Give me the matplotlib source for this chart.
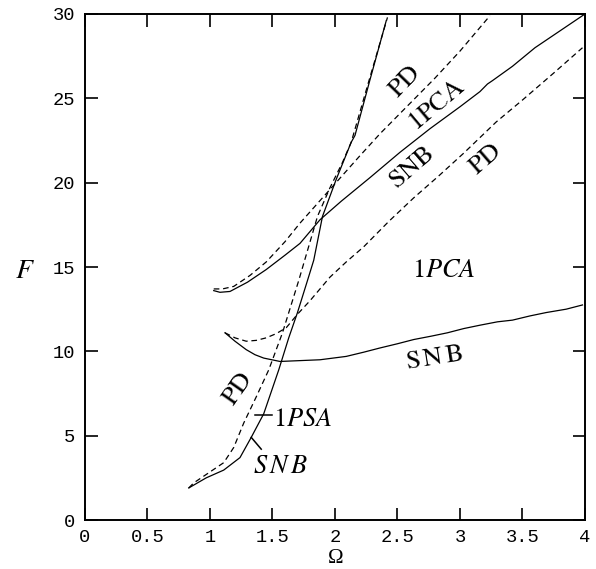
import matplotlib
matplotlib.use("Agg")
import matplotlib.pyplot as plt

plt.rcParams['mathtext.fontset'] = 'stix'

# --- data (Omega, F) ---
psa_snb_x = [0.83, 0.97, 1.11, 1.24, 1.33, 1.43, 1.49, 1.55, 1.63, 1.70, 1.78, 1.83, 1.90, 2.01, 2.13, 2.16, 2.28, 2.41]
psa_snb_y = [1.9, 2.5, 2.96, 3.7, 4.9, 6.3, 7.6, 8.9, 10.8, 12.3, 14.2, 15.4, 18.0, 20.2, 22.4, 22.8, 26.1, 29.6]

psa_pd_x = [0.83, 0.87, 1.00, 1.11, 1.19, 1.27, 1.37, 1.47, 1.58, 1.71, 1.86, 1.96, 2.06, 2.13, 2.27, 2.42]
psa_pd_y = [1.9, 2.2, 2.85, 3.4, 4.3, 5.75, 7.3, 8.9, 11.1, 14.2, 18.0, 19.7, 21.2, 22.4, 26.0, 29.8]

up_snb_x = [1.03, 1.08, 1.16, 1.30, 1.45, 1.60, 1.72, 1.88, 2.05, 2.28, 2.52, 2.76, 3.00, 3.16, 3.22, 3.26, 3.42, 3.60, 3.80, 4.00]
up_snb_y = [13.6, 13.5, 13.55, 14.1, 14.85, 15.7, 16.4, 17.8, 18.9, 20.3, 21.8, 23.2, 24.5, 25.4, 25.85, 26.05, 26.9, 28.0, 29.0, 30.0]

up_pd_x = [1.03, 1.10, 1.19, 1.32, 1.45, 1.60, 1.72, 1.96, 2.20, 2.36, 2.52, 2.80, 3.00, 3.24]
up_pd_y = [13.7, 13.7, 13.85, 14.5, 15.3, 16.5, 17.6, 19.6, 21.6, 22.9, 24.1, 26.2, 27.8, 29.9]

lo_snb_x = [1.12, 1.20, 1.29, 1.36, 1.43, 1.56, 1.72, 1.88, 2.09, 2.23, 2.36, 2.50, 2.63, 2.77, 2.90, 3.03, 3.16, 3.30, 3.42, 3.56, 3.69, 3.85, 3.98]
lo_snb_y = [11.1, 10.6, 10.1, 9.8, 9.6, 9.4, 9.45, 9.5, 9.7, 9.95, 10.2, 10.45, 10.7, 10.9, 11.1, 11.35, 11.55, 11.75, 11.85, 12.1, 12.3, 12.5, 12.75]

lo_pd_x = [1.12, 1.20, 1.29, 1.37, 1.45, 1.53, 1.61, 1.70, 1.80, 1.88, 1.96, 2.09, 2.23, 2.43, 2.63, 2.83, 3.03, 3.29, 3.50, 3.75, 3.98]
lo_pd_y = [11.1, 10.8, 10.6, 10.65, 10.8, 11.05, 11.4, 12.2, 13.0, 13.7, 14.4, 15.3, 16.2, 17.7, 19.1, 20.4, 21.75, 23.6, 24.9, 26.5, 28.0]

psa_mark_x = [1.36, 1.50]
psa_mark_y = [6.25, 6.25]
snb_mark_x = [1.33, 1.41]
snb_mark_y = [4.9, 4.2]

xticks = [0, 0.5, 1, 1.5, 2, 2.5, 3, 3.5, 4]
xtick_labels = ['0', '0.5', '1', '1.5', '2', '2.5', '3', '3.5', '4']
yticks = [0, 5, 10, 15, 20, 25, 30]
ytick_labels = ['0', '5', '10', '15', '20', '25', '30']

fig = plt.figure(figsize=(5.96, 5.69), dpi=100)
ax = fig.add_axes([0.1426, 0.0861, 0.8389, 0.8893])

dash = (0, (4.5, 3))
lw = 0.9
ax.plot(psa_snb_x, psa_snb_y, color='black', lw=lw)
ax.plot(psa_pd_x, psa_pd_y, color='black', lw=lw, linestyle=dash)
ax.plot(up_snb_x, up_snb_y, color='black', lw=lw)
ax.plot(up_pd_x, up_pd_y, color='black', lw=lw, linestyle=dash)
ax.plot(lo_snb_x, lo_snb_y, color='black', lw=lw)
ax.plot(lo_pd_x, lo_pd_y, color='black', lw=lw, linestyle=dash)
ax.plot(psa_mark_x, psa_mark_y, color='black', lw=1.1)
ax.plot(snb_mark_x, snb_mark_y, color='black', lw=1.1)

ax.set_xlim(0, 4)
ax.set_ylim(0, 30)
ax.set_xticks(xticks)
ax.set_xticklabels(xtick_labels)
ax.set_yticks(yticks)
ax.set_yticklabels(ytick_labels)
ax.tick_params(direction='in', length=9, width=1.2, top=True, right=True,
               labelsize=13.5)
ax.tick_params(axis='x', pad=6.5)
ax.tick_params(axis='y', pad=7)
for lab in ax.get_xticklabels() + ax.get_yticklabels():
    lab.set_fontfamily('Liberation Mono')
for s in ax.spines.values():
    s.set_linewidth(1.4)

ts = 19
kw = dict(ha='center', va='center', rotation_mode='anchor', fontsize=ts)
ax.text(1.22, 7.8, r'$\mathrm{PD}$', rotation=55, **kw)
ax.text(1.745, 6.0, r'$1PSA$', **kw)
ax.text(1.56, 3.2, r'$S\,N\,B$', **kw)
ax.text(2.79, 9.65, r'$\mathrm{S\,N\,B}$', rotation=9, **kw)
ax.text(2.87, 14.8, r'$1PCA$', **kw)
ax.text(2.56, 26.0, r'$\mathrm{PD}$', rotation=46, **kw)
ax.text(2.81, 24.6, r'$\mathrm{1PCA}$', rotation=40, **kw)
ax.text(2.61, 20.9, r'$\mathrm{SNB}$', rotation=41, **kw)
ax.text(3.20, 21.4, r'$\mathrm{PD}$', rotation=41, **kw)

fig.text(25 / 596, 1 - 270 / 569, '$F$', fontsize=20, ha='center', va='center')
fig.text(336 / 596, 1 - 563 / 569, 'Ω', fontsize=15, family='Liberation Serif',
         ha='center', va='baseline')

fig.savefig('out.png', dpi=100)
